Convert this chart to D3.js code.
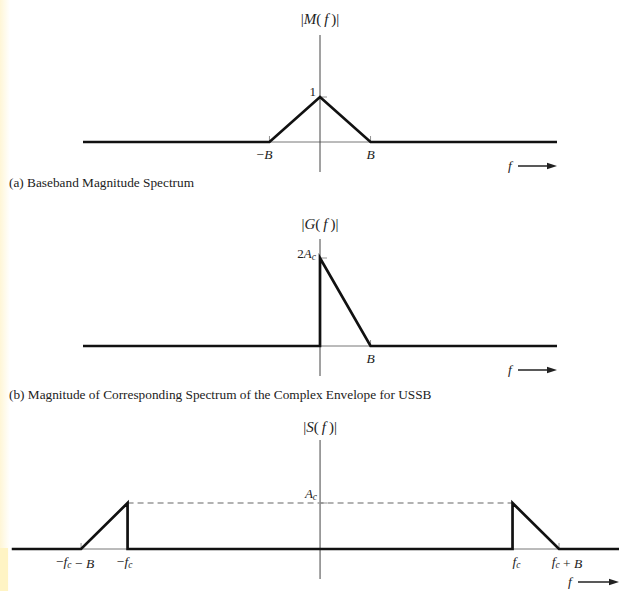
<!DOCTYPE html>
<html><head><meta charset="utf-8">
<script src="https://cdn.jsdelivr.net/npm/d3@7/dist/d3.min.js"></script>
<style>body{margin:0;background:#fff}svg{display:block}text{font-family:"Liberation Serif","DejaVu Serif",serif;fill:#222}</style>
</head><body><svg id="c" width="619" height="591"></svg>
<script>
// Panel (a): baseband magnitude |M(f)|, f in units of B
const fA = [-4.69, -1, 0, 1, 4.69];
const mA = [0, 0, 1, 0, 0];
// Panel (b): complex envelope |G(f)| for USSB, in units of A_c
const fB = [-4.69, 0, 0, 1, 4.69];
const gB = [0, 0, 2, 0, 0];
// Panel (c): |S(f)|, f in units of B, fc = 4.14B
const fc = 4.14;
const fC = [-6.63, -fc - 1, -fc, -fc, fc, fc, fc + 1, 6.43];
const sC = [0, 0, 1, 0, 0, 1, 0, 0];
const captions = ["(a) Baseband Magnitude Spectrum",
  "(b) Magnitude of Corresponding Spectrum of the Complex Envelope for USSB"];

const svg = d3.select("#c");
// faint slide edge on the left
const defs = svg.append("defs");
const lg = defs.append("linearGradient").attr("id", "edge").attr("x1", 0).attr("x2", 1);
lg.append("stop").attr("offset", 0).attr("stop-color", "#fff6d6");
lg.append("stop").attr("offset", 1).attr("stop-color", "#ffffff");
svg.append("rect").attr("x", 0).attr("y", 0).attr("width", 10).attr("height", 591).attr("fill", "url(#edge)");
svg.append("rect").attr("x", 0).attr("y", 548).attr("width", 8).attr("height", 43).attr("fill", "#fff4c4");

const thick = "#111", thin = "#777";

function panel(cfg) {
  const g = svg.append("g");
  const x = d3.scaleLinear().domain(cfg.xd).range(cfg.xr);
  const y = d3.scaleLinear().domain(cfg.yd).range(cfg.yr);
  // horizontal axis (thin)
  g.append("line").attr("x1", x(cfg.xd[0])).attr("x2", x(cfg.xd[1]))
    .attr("y1", y(0)).attr("y2", y(0)).attr("stroke", thin).attr("stroke-width", 1);
  // vertical axis
  g.append("line").attr("x1", x(0)).attr("x2", x(0))
    .attr("y1", cfg.vTop).attr("y2", cfg.vBot).attr("stroke", "#444").attr("stroke-width", 1);
  if (cfg.dash) {
    g.append("line").attr("x1", x(cfg.dash[0])).attr("x2", x(cfg.dash[1]))
      .attr("y1", y(cfg.dash[2])).attr("y2", y(cfg.dash[2]))
      .attr("stroke", "#999").attr("stroke-width", 1.4).attr("stroke-dasharray", "6,4");
  }
  // ticks on f axis
  cfg.ticks.forEach(t => {
    g.append("line").attr("x1", x(t)).attr("x2", x(t)).attr("y1", y(0)).attr("y2", y(0) - 6)
      .attr("stroke", thin).attr("stroke-width", 0.8);
  });
  // tick on y axis
  g.append("line").attr("x1", x(0)).attr("x2", x(0) + 7).attr("y1", y(cfg.ytick)).attr("y2", y(cfg.ytick))
    .attr("stroke", thin).attr("stroke-width", 0.8);
  // spectrum
  const line = d3.line().x((d, i) => x(cfg.fx[i])).y((d) => y(d));
  g.append("path").attr("d", line(cfg.fy)).attr("fill", "none").attr("stroke", thick)
    .attr("stroke-width", 2.7).attr("stroke-linejoin", "miter");
  // y label
  const yl = g.append("text").attr("x", x(0)).attr("y", cfg.titleY).attr("text-anchor", "middle").attr("font-size", 15);
  yl.append("tspan").text("|");
  yl.append("tspan").attr("font-style", "italic").text(cfg.fn);
  yl.append("tspan").text("(");
  yl.append("tspan").attr("font-style", "italic").text("\u2009f\u2009");
  yl.append("tspan").text(")|");
  // y value label
  const vl = g.append("text").attr("x", x(0) - cfg.yLabDx).attr("y", y(cfg.ytick) + cfg.yLabDy).attr("text-anchor", "end").attr("font-size", 13);
  cfg.yLabel(vl);
  // f labels
  cfg.flabels.forEach(fl => {
    const t = g.append("text").attr("x", x(fl.f) + (fl.dx || 0)).attr("y", y(0) + 17)
      .attr("text-anchor", "middle").attr("font-size", 13.5);
    fl.build(t);
  });
  // f arrow
  const ax = cfg.arrow;
  g.append("text").attr("x", ax[0]).attr("y", ax[2] + 4).attr("font-size", 13.5).attr("font-style", "italic").text("f");
  g.append("line").attr("x1", ax[0] + 10).attr("x2", ax[1] - 6).attr("y1", ax[2]).attr("y2", ax[2])
    .attr("stroke", "#222").attr("stroke-width", 1.6);
  g.append("path").attr("d", `M${ax[1]},${ax[2]} L${ax[1] - 10},${ax[2] - 3.2} L${ax[1] - 10},${ax[2] + 3.2} Z`).attr("fill", "#222");
  if (cfg.caption) {
    g.append("text").attr("x", 9).attr("y", cfg.captionY).attr("font-size", 13.3).text(cfg.caption);
  }
}

function sub(t, base, s) {
  t.append("tspan").attr("font-style", "italic").text(base);
  t.append("tspan").attr("font-style", "italic").attr("font-size", 9.5).attr("dy", 2).text(s);
  t.append("tspan").attr("dy", -2).text("");
}

panel({
  xd: [-4.69, 4.69], xr: [83, 557], yd: [0, 1], yr: [142, 97],
  vTop: 35, vBot: 172, fx: fA, fy: mA, ticks: [-1, 1], ytick: 1, yLabDx: 4, yLabDy: -1,
  fn: "M", titleY: 24,
  yLabel: t => t.text("1"),
  flabels: [
    { f: -1, dx: -5, build: t => { t.append("tspan").text("\u2212"); t.append("tspan").attr("font-style", "italic").text("B"); } },
    { f: 1, build: t => t.attr("font-style", "italic").text("B") }
  ],
  arrow: [508, 557, 166],
  caption: captions[0], captionY: 187
});

panel({
  xd: [-4.69, 4.69], xr: [83, 557], yd: [0, 2], yr: [346, 258],
  vTop: 239, vBot: 376, fx: fB, fy: gB, ticks: [1], ytick: 2, yLabDx: 4, yLabDy: 0,
  fn: "G", titleY: 229,
  yLabel: t => { t.append("tspan").text("2"); sub(t, "A", "c"); },
  flabels: [
    { f: 1, build: t => t.attr("font-style", "italic").text("B") }
  ],
  arrow: [508, 557, 370],
  caption: captions[1], captionY: 399
});

panel({
  xd: [-6.63, 6.43], xr: [11.8, 619], yd: [0, 1], yr: [549, 503],
  vTop: 440, vBot: 579, fx: fC, fy: sC, ticks: [-fc - 1, fc + 1], ytick: 1, yLabDx: 3, yLabDy: -5,
  dash: [-fc, fc, 1],
  fn: "S", titleY: 432,
  yLabel: t => sub(t, "A", "c"),
  flabels: [
    { f: -fc - 1, dx: -6, build: t => { t.append("tspan").text("\u2212"); sub(t, "f", "c"); t.append("tspan").text(" \u2212 "); t.append("tspan").attr("font-style", "italic").text("B"); } },
    { f: -fc, dx: -3, build: t => { t.append("tspan").text("\u2212"); sub(t, "f", "c"); } },
    { f: fc, dx: 4, build: t => sub(t, "f", "c") },
    { f: fc + 1, dx: 8, build: t => { sub(t, "f", "c"); t.append("tspan").text(" + "); t.append("tspan").attr("font-style", "italic").text("B"); } }
  ],
  arrow: [568, 619, 582]
});
</script></body></html>
